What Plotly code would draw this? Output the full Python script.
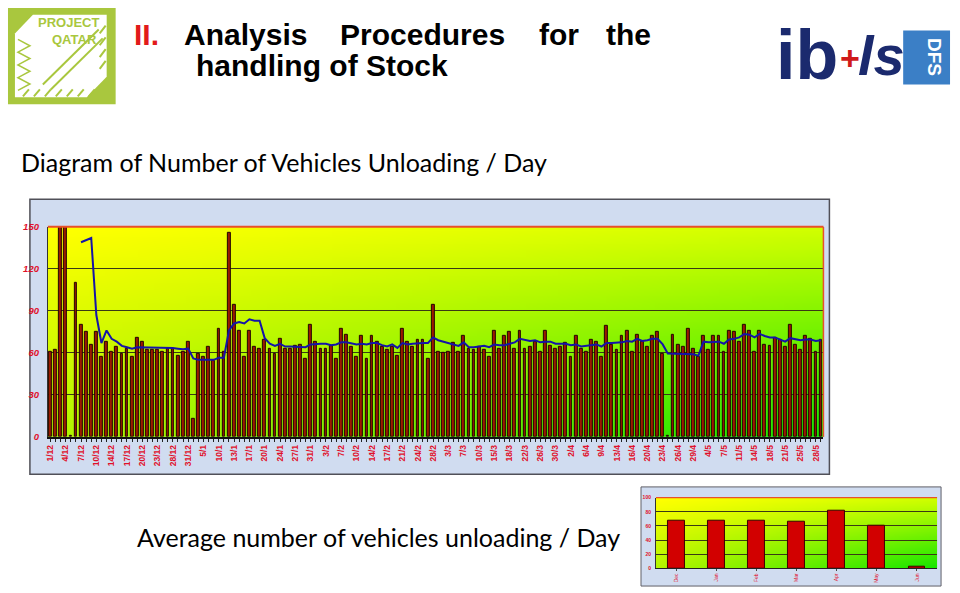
import plotly.graph_objects as go
import zlib, struct, base64

# ---------------- data ----------------
tick_labels = ["1/12", "4/12", "7/12", "10/12", "14/12", "17/12", "20/12", "23/12", "28/12", "31/12",
               "5/1", "10/1", "13/1", "17/1", "20/1", "24/1", "27/1", "31/1", "3/2", "7/2",
               "10/2", "14/2", "17/2", "21/2", "24/2", "28/2", "3/3", "7/3", "10/3", "15/3",
               "18/3", "22/3", "26/3", "30/3", "2/4", "6/4", "9/4", "13/4", "16/4", "20/4",
               "23/4", "26/4", "29/4", "4/5", "7/5", "11/5", "14/5", "18/5", "21/5", "25/5", "28/5"]

vehicles_per_day = [61, 62, 200, 200, 1, 110, 80, 75, 66, 75, 57, 68, 61, 64, 59, 63, 57, 71, 68, 62,
                    62, 62, 61, 63, 63, 58, 61, 68, 13, 59, 57, 64, 54, 77, 61, 146, 94, 76, 57, 76,
                    64, 63, 69, 63, 59, 70, 63, 63, 65, 66, 56, 80, 68, 63, 63, 65, 56, 77, 73, 64,
                    57, 72, 56, 72, 68, 64, 62, 64, 58, 77, 68, 64, 69, 69, 56, 94, 61, 60, 61, 67,
                    61, 72, 63, 62, 64, 62, 57, 76, 63, 72, 75, 63, 76, 63, 64, 68, 61, 76, 65, 63,
                    64, 67, 57, 72, 63, 61, 69, 68, 57, 79, 66, 62, 72, 76, 61, 73, 68, 64, 72, 75,
                    59, 1, 73, 66, 64, 77, 63, 57, 72, 62, 72, 72, 61, 76, 75, 68, 80, 76, 61, 76,
                    66, 65, 71, 69, 64, 80, 66, 62, 72, 70, 61, 69]

moving_average = [None, None, None, None, None, None, 139, 140.5, 142, 87,
                  67, 76, 70, 68, 65, 64, 63, 64, 64, 63.5,
                  63.5, 63.5, 63.5, 64, 63.5, 63, 62.5, 63, 56, 55,
                  55, 55, 55, 56.5, 56.5, 76, 81, 82, 81, 84,
                  83, 83, 70.5, 66.5, 65, 66.5, 64.5, 64.5, 64.5, 64.5,
                  64, 66, 66.5, 66.5, 66.5, 65.5, 66, 67.5, 67.5, 66.5,
                  66, 66.5, 66, 67, 67, 65.5, 64.5, 66, 63.5, 67,
                  66, 66.5, 67, 67, 67, 71, 69, 68, 67, 66.5,
                  65, 67.5, 64, 64, 64.5, 65, 64, 66, 65.5, 65.5,
                  66.5, 67.5, 70, 69.5, 68.5, 69, 67.5, 68, 68, 66.5,
                  66.5, 66.5, 65.5, 66, 64.5, 65, 66, 66, 64.5, 67,
                  67, 67, 67.5, 68.5, 68, 70, 68.5, 69, 70, 70,
                  66, 59.5, 59.5, 59.5, 59.5, 59.5, 59, 58, 68, 67.5,
                  68, 68, 66.5, 69.5, 70, 71, 73.5, 73, 71, 73.5,
                  72, 71, 71, 69.5, 68, 70.5, 69.5, 69, 69.5, 69.5,
                  68.5, 69]

months = ["Dec", "Jan", "Feb", "Mar", "Apr", "May", "Jun"]
monthly_average = [68, 67, 67, 66, 82, 60, 3]

main_yticks = [0, 30, 60, 90, 120, 150]
small_yticks = [0, 20, 40, 60, 80, 100]

# ---------------- helpers ----------------
W, H = 960, 593


def px(x):
    return x / W


def py(y):
    return 1 - y / H


def make_png(w, h, fn):
    raw = bytearray()
    for j in range(h):
        raw.append(0)
        for i in range(w):
            raw.extend(fn(i / (w - 1), j / (h - 1)))

    def chunk(t, d):
        c = struct.pack('>I', len(d)) + t + d
        return c + struct.pack('>I', zlib.crc32(t + d) & 0xffffffff)

    ihdr = struct.pack('>IIBBBBB', w, h, 8, 2, 0, 0, 0)
    png = (b'\x89PNG\r\n\x1a\n' + chunk(b'IHDR', ihdr) +
           chunk(b'IDAT', zlib.compress(bytes(raw))) + chunk(b'IEND', b''))
    return 'data:image/png;base64,' + base64.b64encode(png).decode()


TL, TR, BL, BR = (255, 255, 0), (208, 255, 0), (180, 245, 0), (25, 230, 0)


def grad(u, v):
    out = []
    for k in range(3):
        top = TL[k] * (1 - u) + TR[k] * u
        bot = BL[k] * (1 - u) + BR[k] * u
        out.append(int(round(top * (1 - v) + bot * v)))
    return out


grad_png = make_png(48, 32, grad)
blue_png = make_png(4, 4, lambda u, v: [208, 220, 240])


def img(src, x0, y0, x1, y1):
    return dict(source=src, xref="paper", yref="paper", x=px(x0), y=py(y0),
                sizex=px(x1) - px(x0), sizey=py(y0) - py(y1),
                xanchor="left", yanchor="top", sizing="stretch", layer="below")


# plot-area pixel boxes
MX0, MX1, MY0, MY1 = 45, 823, 225, 439
SX0, SX1, SY0, SY1 = 655, 937, 501, 573

RED = "#e0102a"
AX_FONT = "Liberation Sans, Arial, sans-serif"

fig = go.Figure()

n = len(vehicles_per_day)
xs = list(range(n))
fig.add_trace(go.Bar(x=xs, y=vehicles_per_day, width=0.55,
                     marker=dict(color="#9c1a00", line=dict(color="#220600", width=1)),
                     xaxis="x", yaxis="y", hoverinfo="skip"))
fig.add_trace(go.Scatter(x=xs, y=moving_average, mode="lines",
                         line=dict(color="#1414a8", width=2), connectgaps=False,
                         xaxis="x", yaxis="y", hoverinfo="skip"))
fig.add_trace(go.Bar(x=months, y=monthly_average, width=0.42,
                     marker=dict(color="#d20000", line=dict(color="#3a0000", width=1)),
                     xaxis="x2", yaxis="y2", hoverinfo="skip"))

full_ticktext = []
for i in range(n):
    full_ticktext.append(tick_labels[i // 3] if (i % 3 == 0 and i // 3 < len(tick_labels)) else "")

grid_col = "#3a3a14"

fig.update_layout(
    width=W, height=H,
    margin=dict(l=0, r=0, t=0, b=0),
    paper_bgcolor="white", plot_bgcolor="rgba(0,0,0,0)",
    showlegend=False, bargap=0,
    xaxis=dict(domain=[px(MX0), px(MX1)], range=[-0.5, n - 0.5],
               tickmode="array", tickvals=xs, ticktext=full_ticktext,
               tickangle=-90, ticks="outside", ticklen=3, tickcolor="#222",
               tickfont=dict(family=AX_FONT, size=8.5, color=RED, weight="bold"),
               showline=True, linecolor="#111", linewidth=1.5,
               showgrid=False, zeroline=False, anchor="y"),
    yaxis=dict(domain=[py(MY1), py(MY0)], range=[0, 150],
               tickmode="array", tickvals=main_yticks, ticktext=[str(v) for v in main_yticks],
               tickfont=dict(family=AX_FONT, size=9.5, color=RED, weight="bold", style="italic"),
               ticks="", ticklabelstandoff=6,
               showgrid=True, gridcolor=grid_col, gridwidth=1.4,
               showline=True, linecolor="#333", linewidth=1,
               zeroline=False, anchor="x"),
    xaxis2=dict(domain=[px(SX0), px(SX1)], range=[-0.5, 6.5],
                tickangle=-90, ticks="outside", ticklen=2, tickcolor="#444",
                tickfont=dict(family=AX_FONT, size=5, color=RED),
                showline=True, linecolor="#222", linewidth=1,
                showgrid=False, zeroline=False, anchor="y2"),
    yaxis2=dict(domain=[py(SY1), py(SY0)], range=[0, 100],
                tickmode="array", tickvals=small_yticks, ticktext=[str(v) for v in small_yticks],
                tickfont=dict(family=AX_FONT, size=5, color=RED, weight="bold"),
                ticks="", ticklabelstandoff=3,
                showgrid=True, gridcolor=grid_col, gridwidth=1,
                showline=True, linecolor="#333", linewidth=1,
                zeroline=False, anchor="x2"),
)

# background images (frames + gradients)
fig.update_layout(images=[
    img(blue_png, 27, 197, 829, 477),
    img(grad_png, MX0, MY0, MX1, MY1),
    img(blue_png, 640, 490, 941, 591),
    img(grad_png, SX0, SY0, SX1, SY1),
])

shapes = []


def rect(x0, y0, x1, y1, line=None, fill="rgba(0,0,0,0)", layer="below"):
    return dict(type="rect", xref="paper", yref="paper", x0=px(x0), x1=px(x1), y0=py(y1), y1=py(y0),
                fillcolor=fill, layer=layer, line=line or dict(width=0))


# chart frames
shapes.append(rect(27, 197, 829, 477, line=dict(color="#505058", width=1.5)))
shapes.append(rect(640, 490, 941, 591, line=dict(color="#606068", width=1)))
# plot-area top/right border (orange-red)
shapes.append(dict(type="line", xref="paper", yref="paper", x0=px(MX0), x1=px(MX1), y0=py(MY0), y1=py(MY0),
                   line=dict(color="#e8502a", width=2), layer="above"))
shapes.append(dict(type="line", xref="paper", yref="paper", x0=px(MX1), x1=px(MX1), y0=py(MY0), y1=py(MY1),
                   line=dict(color="#e8502a", width=1.5), layer="above"))
shapes.append(dict(type="line", xref="paper", yref="paper", x0=px(SX0), x1=px(SX1), y0=py(SY0), y1=py(SY0),
                   line=dict(color="#e8502a", width=1.2), layer="above"))

# ---- Project Qatar logo ----
G = "#a9c73e"
shapes.append(rect(5, 2, 113, 100, fill=G, layer="above"))


def path_shape(pts, fill, line_col=None, lw=0):
    p = "M " + " L ".join(f"{px(x):.5f},{py(y):.5f}" for x, y in pts) + " Z"
    return dict(type="path", xref="paper", yref="paper", path=p, fillcolor=fill,
                line=dict(color=line_col or fill, width=lw), layer="above")


shapes.append(path_shape([(30, 9), (104, 9), (104, 72), (84, 93), (12, 93), (12, 28)], "white"))
zz = []
for k in range(9):
    yk = 34 + k * 6.5
    zz.append((15 if k % 2 == 0 else 27, yk))
zpath = "M " + " L ".join(f"{px(x):.5f},{py(y):.5f}" for x, y in zz)
shapes.append(dict(type="path", xref="paper", yref="paper", path=zpath,
                   line=dict(color=G, width=1.5), layer="above"))
for k in range(7):
    x0 = 20 + k * 11
    shapes.append(dict(type="line", xref="paper", yref="paper", x0=px(x0), y0=py(92),
                       x1=px(x0 + 6), y1=py(85), line=dict(color=G, width=2), layer="above"))
for k in range(4):
    yk = 20 + k * 12
    shapes.append(dict(type="line", xref="paper", yref="paper", x0=px(97), y0=py(yk + 8),
                       x1=px(103), y1=py(yk), line=dict(color=G, width=2), layer="above"))
shapes.append(dict(type="line", xref="paper", yref="paper", x0=px(40), y0=py(80),
                   x1=px(96), y1=py(24), line=dict(color=G, width=2), layer="above"))
shapes.append(dict(type="line", xref="paper", yref="paper", x0=px(48), y0=py(85),
                   x1=px(100), y1=py(33), line=dict(color=G, width=2), layer="above"))

# ---- DFS box ----
shapes.append(rect(903, 25, 950, 80, fill="#3b7fc6", layer="above"))

fig.update_layout(shapes=shapes)

ann = []


def text(x, y, s, size, color="black", family=AX_FONT, xanchor="left", yanchor="middle", angle=0):
    ann.append(dict(xref="paper", yref="paper", x=px(x), y=py(y), text=s, showarrow=False,
                    xanchor=xanchor, yanchor=yanchor, textangle=angle,
                    font=dict(family=family, size=size, color=color)))


# title
TS = 30
text(129, 29, "<b>II.</b>", TS, color="#e21a1a")
text(180, 29, "<b>Analysis</b>", TS)
text(336, 29, "<b>Procedures</b>", TS)
text(536, 29, "<b>for</b>", TS)
text(603, 29, "<b>the</b>", TS)
text(192, 61, "<b>handling of Stock</b>", TS)

# subtitles
CAL = "Lato, Carlito, Calibri, sans-serif"
text(16, 159, "Diagram of Number of Vehicles Unloading / Day", 25, family=CAL)
text(132, 541, "Average number of vehicles unloading / Day", 25, family=CAL)

# Project Qatar text
NARROW = "Liberation Sans Narrow, Arial Narrow, sans-serif"
text(66, 17, "<b>PROJECT</b>", 13, color=G, family=NARROW, xanchor="center")
text(72, 34, "<b>QATAR</b>", 13, color=G, family=NARROW, xanchor="center")

# ib+ls logo
NAVY = "#1b2a6e"
text(773, 50, "<b>ib</b>", 70, color=NAVY, family=AX_FONT)
text(850, 53, "<b>+</b>", 34, color="#d01a1a", family=AX_FONT, xanchor="center")
text(856, 50, "<b><i>ls</i></b>", 56, color=NAVY, family=NARROW)
text(935, 52, "<b>DFS</b>", 19, color="white", family=AX_FONT, xanchor="center", angle=90)

fig.update_layout(annotations=ann)

fig.write_html("out.html")
